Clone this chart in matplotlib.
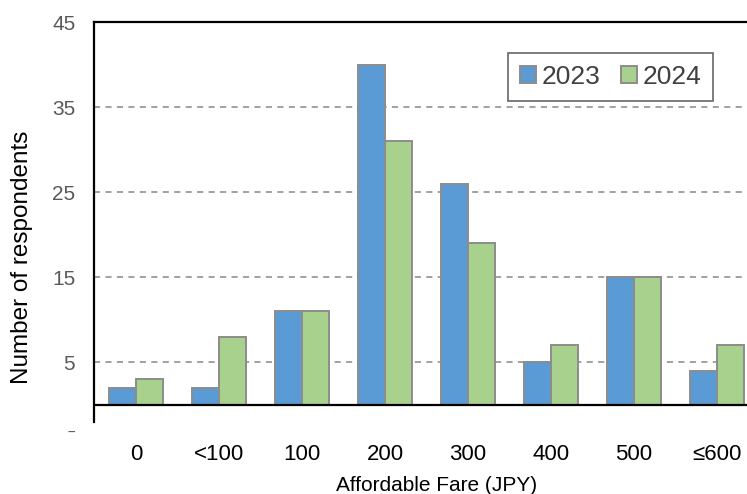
import numpy as np
import matplotlib.pyplot as plt

plt.rcParams['font.family'] = ['Liberation Sans', 'DejaVu Sans']

categories = ['0', '<100', '100', '200', '300', '400', '500', '≤600']
y2023 = [2, 2, 11, 40, 26, 5, 15, 4]
y2024 = [3, 8, 11, 31, 19, 7, 15, 7]
yticks = [5, 15, 25, 35, 45]

fig = plt.figure(figsize=(7.47, 4.94), dpi=100)
ax = fig.add_axes([94 / 747, 1 - 422 / 494, (747 - 94) / 747, 400 / 494])

x = np.arange(len(categories))
w = 0.325
ax.bar(x - w / 2, y2023, w, color='#5B9BD5', edgecolor='#8C8C8C', linewidth=1.4,
       label='2023', zorder=3)
ax.bar(x + w / 2, y2024, w, color='#A9D18E', edgecolor='#8C8C8C', linewidth=1.4,
       label='2024', zorder=3)

ax.set_xlim(-0.506, 7.36)
ax.set_ylim(-2, 45)

for v in [5, 15, 25, 35]:
    ax.axhline(v, color='#888888', linestyle=(0, (4, 3.5)), linewidth=1.1, zorder=1)
ax.axhline(0, color='black', linewidth=1.6, zorder=4)

ax.spines['right'].set_visible(False)
ax.spines['bottom'].set_visible(False)
ax.spines['top'].set_linewidth(1.6)
ax.spines['left'].set_linewidth(1.6)

ax.set_yticks(yticks)
ax.set_yticklabels([str(t) for t in yticks], color='#595959', fontsize=15)
ax.tick_params(axis='y', length=0, pad=13.5)
ax.set_xticks(x)
ax.set_xticklabels(categories, fontsize=16)
ax.tick_params(axis='x', length=0, pad=16)

# clipped "-5" label remnant below the axis
fig.text(71 / 747, 1 - 440 / 494, '‾', color='#595959', fontsize=12,
         ha='center', va='center')

fig.text(22 / 747, 1 - 257 / 494, 'Number of respondents', fontsize=17.5,
         rotation=90, ha='center', va='center')
fig.text(437 / 747, 1 - 485 / 494, 'Affordable Fare (JPY)', fontsize=15,
         ha='center', va='center')

leg = ax.legend(loc='upper right', bbox_to_anchor=((713 - 94) / 653, 1 - 31 / 400),
                fontsize=19, ncol=2, frameon=True, fancybox=False,
                handlelength=0.6, handleheight=0.6, handletextpad=0.2,
                columnspacing=0.8, borderpad=0.45, borderaxespad=0)
leg.get_frame().set_edgecolor('#404040')
leg.get_frame().set_linewidth(1.2)
for t in leg.get_texts():
    t.set_color('#404040')

fig.savefig('out.png', dpi=100)
